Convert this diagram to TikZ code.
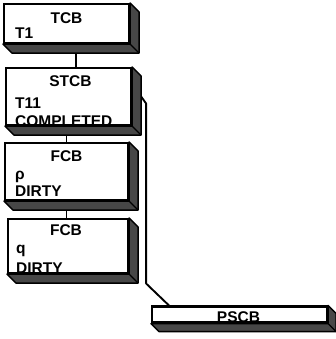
\documentclass[tikz,border=0pt]{standalone}
\usepackage{fontspec}
\setmainfont{Liberation Sans}
\tikzset{
  frontface/.style = {draw, line width=2.2pt, fill=white, inner sep=0pt},
  sideface/.style  = {fill=black!72, draw=black, line width=1.4pt, line join=round},
  link/.style      = {line width=1.9pt, line join=round},
  blocktitle/.style= {font=\bfseries\fontsize{15.5}{18}\selectfont, anchor=base, inner sep=0pt},
  field/.style     = {font=\bfseries\fontsize{15.5}{18}\selectfont, anchor=base west, inner sep=0pt},
}
% right and bottom faces of a block, #2 = depth
\newcommand{\extrude}[2]{%
  \draw[sideface] (#1.north east) -- ++(#2,#2) -- ([shift={(#2,#2)}]#1.south east)
    -- ([shift={(#2,#2)}]#1.south west) -- (#1.south west) -- (#1.south east) -- cycle;
  \draw[sideface] (#1.south east) -- ++(#2,#2);
}

\begin{document}
\begin{tikzpicture}[x=1pt,y=-1pt]
  \useasboundingbox (0,0) rectangle (336,339);

  % front faces
  \node[frontface, minimum width=125pt, minimum height=39pt] (tcb)  at (66.5,23.5) {};
  \node[frontface, minimum width=125pt, minimum height=57pt] (stcb) at (68.5,96.5) {};
  \node[frontface, minimum width=123pt, minimum height=57pt] (fcbp) at (66.5,171.5) {};
  \node[frontface, minimum width=120pt, minimum height=54pt] (fcbq) at (68,246) {};
  \node[frontface, minimum width=175pt, minimum height=16pt] (pscb) at (239.5,314.5) {};

  % texts
  \node[blocktitle] (tcb-t) at ([yshift=-21pt]tcb.north) {TCB};
  \node[field] (tcb-f1) at ([xshift=12pt,yshift=6pt]tcb.south west) {T1};

  \node[blocktitle] (stcb-t) at ([xshift=2pt,yshift=-20pt]stcb.north) {STCB};
  \node[field] (stcb-f1) at ([xshift=10pt,yshift=18pt]stcb.south west) {T11};
  \node[field] (stcb-f2) at ([xshift=10pt,yshift=0pt]stcb.south west) {COMPLETED};

  \node[blocktitle] (fcbp-t) at ([yshift=-20pt]fcbp.north) {FCB};
  \node[field] (fcbp-f1) at ([xshift=11pt,yshift=22pt]fcbp.south west) {ρ};
  \node[field] (fcbp-f2) at ([xshift=11pt,yshift=5pt]fcbp.south west) {DIRTY};

  \node[blocktitle] (fcbq-t) at ([xshift=-2pt,yshift=-18pt]fcbq.north) {FCB};
  \node[field] (fcbq-f1) at ([xshift=9pt,yshift=21pt]fcbq.south west) {q};
  \node[field] (fcbq-f2) at ([xshift=9pt,yshift=1pt]fcbq.south west) {DIRTY};

  \node[blocktitle] (pscb-t) at ([xshift=-1pt,yshift=1.5pt]pscb.south) {PSCB};

  % connectors
  \draw[link] ([xshift=9.5pt]tcb.south) -- ([xshift=9.5pt]tcb.south |- stcb.north);
  \draw[link] (fcbp.north) -- (fcbp.north |- stcb.south);
  \draw[link] (fcbp.south) -- (fcbp.south |- fcbq.north);
  \draw[link] ([xshift=9pt]stcb.east) -- ++(5,7) -- ++(0,180)
    -- ([xshift=18pt]pscb.north west);

  % side faces
  \extrude{tcb}{9}
  \extrude{stcb}{9}
  \extrude{fcbp}{9}
  \extrude{fcbq}{9}
  \extrude{pscb}{8}
\end{tikzpicture}
\end{document}
